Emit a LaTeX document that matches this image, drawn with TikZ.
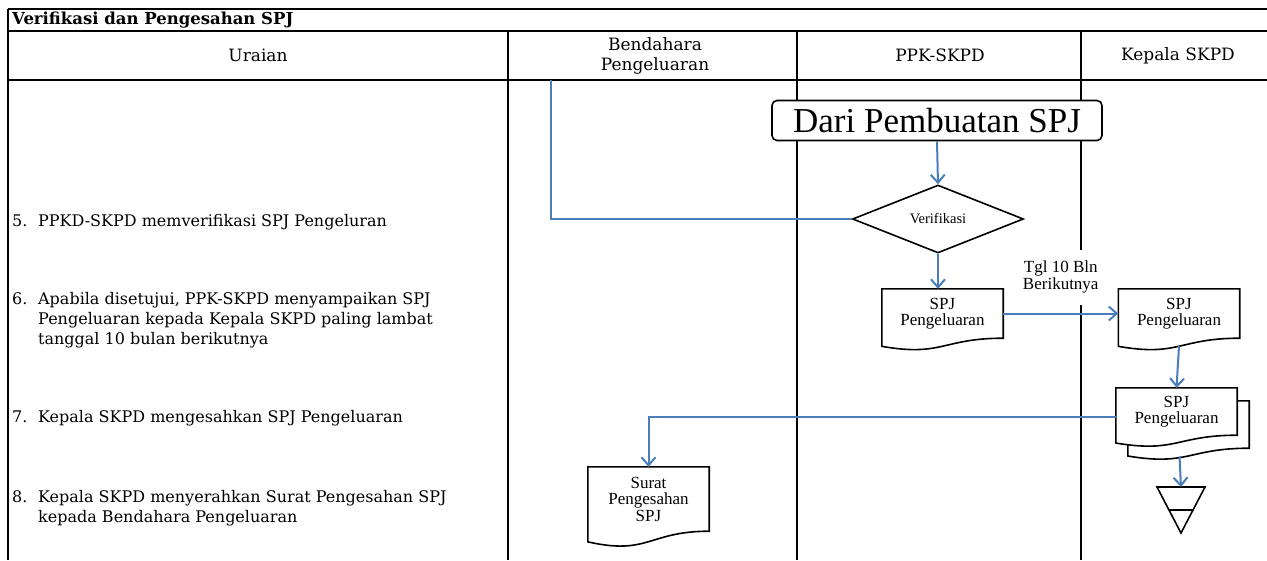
\documentclass[tikz,border=0pt]{standalone}
\usepackage{fontspec}
\setmainfont{DejaVu Serif}
\newfontfamily\timesfont{Liberation Serif}
\usetikzlibrary{arrows.meta,calc,shapes.geometric,backgrounds}
\definecolor{alurbiru}{RGB}{74,126,187}

\newcommand\nomor[1]{\makebox[26pt][l]{#1}}
% garis tepi dokumen (bawah bergelombang)
\newcommand\docline[1]{%
  \draw[docedge] (#1.north west) -- (#1.north east) -- (#1.south east)
    .. controls (#1.south) and ($(#1.south)!-0.38!(#1.north)$) ..
    ($(#1.south west)!-0.165!(#1.north west)$) -- cycle;}

\begin{document}
\begin{tikzpicture}[
  x=1pt,y=-1pt,
  >={Straight Barb[length=8pt,width=14pt]},
  garis/.style={line width=1.6pt},
  alur/.style={alurbiru,line width=2pt},
  docedge/.style={line width=1.6pt,fill=white},
  dokumen/.style={rectangle,inner sep=0pt,minimum width=121pt,align=center,
    font=\timesfont\fontsize{17}{16}\selectfont},
  uraian/.style={anchor=west,align=left,inner sep=0pt,
    font=\fontsize{16}{20}\selectfont},
  judul/.style={align=center,inner sep=0pt,font=\fontsize{17}{20}\selectfont}
]
\useasboundingbox (0,0) rectangle (1267,560);

% tabel
\draw[garis] (8,9) -- (1267,9);
\draw[garis] (8,31) -- (1267,31);
\draw[garis] (8,80) -- (1267,80);
\draw[garis] (8,9) -- (8,560);
\foreach \x in {508,797,1081}
  \draw[garis] (\x,31) -- (\x,560);

\node[anchor=west,inner sep=0pt,font=\bfseries\fontsize{16.5}{18}\selectfont]
  (judulTabel) at (12,20) {Verifikasi dan Pengesahan SPJ};
\node[judul] (kolUraian) at (258,55.5) {Uraian};
\node[judul] (kolBendahara) at (655,55.5) {Bendahara\\Pengeluaran};
\node[judul] (kolPPK) at (940,55.5) {PPK-SKPD};
\node[judul] (kolKepala) at (1178,55.5) {Kepala SKPD};

% uraian langkah
\node[uraian] (u5) at (12,222) {\nomor{5.}PPKD-SKPD memverifikasi SPJ Pengeluran};
\node[uraian] (u6) at (12,320) {\nomor{6.}Apabila disetujui, PPK-SKPD menyampaikan SPJ\\
  \nomor{}Pengeluaran kepada Kepala SKPD paling lambat\\
  \nomor{}tanggal 10 bulan berikutnya};
\node[uraian] (u7) at (12,418) {\nomor{7.}Kepala SKPD mengesahkan SPJ Pengeluaran};
\node[uraian] (u8) at (12,508) {\nomor{8.}Kepala SKPD menyerahkan Surat Pengesahan SPJ\\
  \nomor{}kepada Bendahara Pengeluaran};

% bagan alir
\node[draw,rounded corners=5pt,fill=white,line width=1.6pt,minimum width=330pt,
  minimum height=40pt,inner sep=0pt,font=\timesfont\fontsize{35}{38}\selectfont]
  (mulai) at (937,120.5) {Dari Pembuatan SPJ};
\node[diamond,draw,line width=1.6pt,minimum width=171pt,minimum height=68pt,
  inner sep=0pt,font=\timesfont\fontsize{14.5}{16}\selectfont]
  (verif) at (938,219) {Verifikasi};

\node[dokumen,minimum height=49pt] (spj1) at (942.5,313.5) {SPJ\\Pengeluaran};
\node[dokumen,minimum height=49pt] (spj2) at (1179,313.5) {SPJ\\Pengeluaran};
\node[dokumen,minimum height=47pt] (spjsah) at (1176.5,411.5) {SPJ\\Pengeluaran};
\node[dokumen,minimum height=47pt] (spjsahB) at (1188.5,424.5) {};
\node[dokumen,minimum height=64pt,font=\timesfont\fontsize{17}{16.5}\selectfont]
  (surat) at (648.5,499) {Surat\\Pengesahan\\SPJ};

\begin{scope}[on background layer]
  \docline{spj1}
  \docline{spj2}
  \docline{spjsahB}
  \docline{spjsah}
  \docline{surat}
\end{scope}

% arsip
\coordinate (arsip) at (1181,487);
\draw[line width=1.6pt] (arsip) ++(-24,0) -- ++(48,0) -- ++(-24,46) -- cycle;
\draw[line width=1.6pt] ($(arsip)+(-12,23)$) -- ++(24,0);

% penghubung
\coordinate (bendAwal) at (551,80);
\draw[alur] (bendAwal) |- (verif.west);
\draw[alur,->] (mulai.south) -- (verif.north);
\draw[alur,->] (verif.south) -- (verif.south |- spj1.north);
\draw[alur,->] (spj1.east) -- node[midway,above=8pt,fill=white,inner xsep=3pt,
  inner ysep=11pt,align=center,text=black,
  font=\timesfont\fontsize{17}{17}\selectfont] (tgl) {Tgl 10 Bln\\Berikutnya} (spj2.west);
\coordinate (spj2bawah) at ($(spj2.south)!-0.163!(spj2.north)$);
\draw[alur,->] (spj2bawah) -- (spjsah.north);
\draw[alur,->] ([yshift=-5pt]spjsah.west) -| (surat.north);
\coordinate (spjsahbawah) at ($(spjsahB.south)!-0.17!(spjsahB.north)+(-9,0)$);
\draw[alur,->] (spjsahbawah) -- (arsip);
\end{tikzpicture}
\end{document}
